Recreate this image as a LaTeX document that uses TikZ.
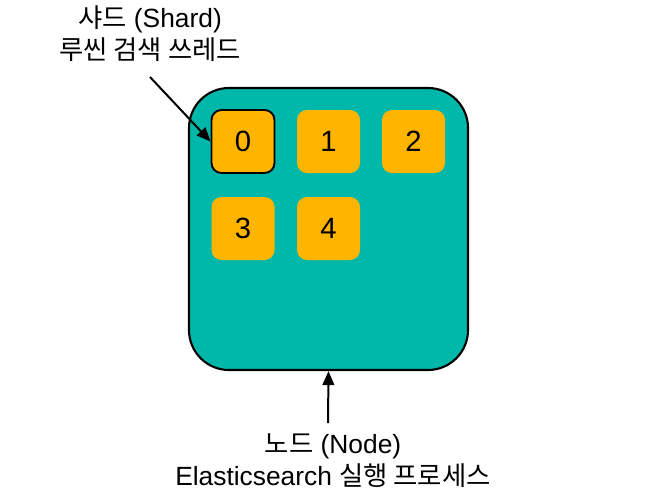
\documentclass[tikz,border=0pt]{standalone}
\usepackage{fontspec}
\setmainfont{Liberation Sans}
\newfontfamily\kr{Noto Sans CJK KR}
\usetikzlibrary{arrows.meta}
\definecolor{nodeteal}{RGB}{0,184,170}
\definecolor{shardorange}{RGB}{255,180,0}
\begin{document}
\begin{tikzpicture}[x=0.03cm, y=-0.03cm,
  esnode/.style = {draw, line width=1.8pt, fill=nodeteal, rounded corners=1.2cm, minimum width=8.37cm, minimum height=8.46cm},
  shard/.style = {fill=shardorange, rounded corners=0.3cm, minimum width=1.89cm, minimum height=1.89cm, font=\fontsize{25}{28}\selectfont},
  label/.style = {align=center, font=\fontsize{22.5}{27.5}\selectfont},
  pointer/.style = {-{Triangle[length=12pt, width=10pt]}, line width=1.7pt}]

\useasboundingbox (0, 0) rectangle (651, 503);

\node[esnode] (node) at (328.5, 229) {};

\node[shard, draw, line width=1.6pt] (s0) at (243, 141.5) {0};
\node[shard] (s1) at (328.5, 141.5) {1};
\node[shard] (s2) at (413.5, 141.5) {2};
\node[shard] (s3) at (243, 228.5) {3};
\node[shard] (s4) at (328.5, 228.5) {4};

\node[label] (shardtext) at (150, 34) {{\kr 샤드} (Shard)\\{\kr 루씬 검색 쓰레드}};
\node[label] (nodetext) at (333, 461) {{\kr 노드} (Node)\\Elasticsearch {\kr 실행 프로세스}};

\coordinate (shardfrom) at (150, 77);
\coordinate (nodefrom) at (328, 423);

\draw[pointer] (shardfrom) -- (s0.west);
\draw[pointer] (nodefrom) -- (node.south);

\end{tikzpicture}
\end{document}
